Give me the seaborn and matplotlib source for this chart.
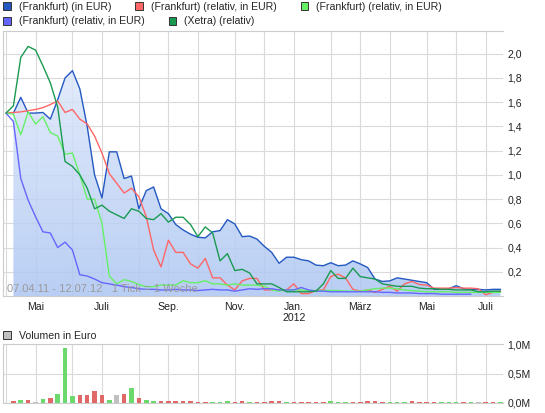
import matplotlib
matplotlib.use('Agg')
import matplotlib.pyplot as plt
import matplotlib.dates as mdates
from matplotlib.patches import Patch, PathPatch
from matplotlib.colors import LinearSegmentedColormap
from matplotlib.ticker import FixedLocator, FuncFormatter
import seaborn as sns
import numpy as np
import pandas as pd

nan = np.nan

# weekly values, first week starting 2011-04-03
start = '2011-04-03'

frankfurt_eur = [nan, 1.51, 1.64, 1.51, 1.51, 1.515, 1.46, 1.62, 1.80, 1.86,
                 1.71, 1.40, 1.00, 0.81, 1.19, 1.19, 0.97, 0.99, 0.72, 0.87,
                 0.90, 0.72, 0.68, 0.59, 0.545, 0.51, 0.485, 0.48, 0.53, 0.54,
                 0.63, 0.595, 0.49, 0.495, 0.47, 0.41, 0.36, 0.27, 0.32, 0.32,
                 0.30, 0.29, 0.255, 0.25, 0.275, 0.25, 0.255, 0.29, 0.265, 0.235,
                 0.14, 0.12, 0.125, 0.15, 0.14, 0.13, 0.12, 0.11, 0.055, 0.055,
                 0.06, 0.085, 0.06, 0.055, 0.055, 0.05, 0.055, 0.055]

frankfurt_rel_rot = [1.51, 1.515, 1.52, 1.53, 1.54, 1.555, 1.58, 1.61, 1.515, 1.54,
                     1.46, 1.42, 1.32, 1.18, 1.01, 0.93, 0.85, 0.89, 0.82, 0.655,
                     0.38, 0.24, 0.46, 0.36, 0.36, 0.265, 0.23, 0.31, 0.15, 0.15,
                     0.09, 0.05, 0.125, 0.145, 0.145, 0.05, 0.05, 0.05, 0.05, 0.10,
                     0.02, 0.02, 0.045, 0.05, 0.16, 0.18, 0.15, 0.055, 0.04, 0.05,
                     0.03, 0.055, 0.08, 0.04, 0.10, 0.12, 0.095, 0.09, 0.065, 0.065,
                     0.065, 0.07, 0.065, 0.065, 0.06, 0.01, 0.03, 0.04]

frankfurt_rel_gruen = [1.51, 1.50, 1.33, 1.52, 1.42, 1.48, 1.35, 1.32, 1.17, 1.18,
                       1.00, 0.80, 0.80, 0.60, 0.165, 0.10, 0.135, 0.12, 0.095, 0.077,
                       0.077, 0.09, 0.09, 0.09, 0.126, 0.11, 0.11, 0.126, 0.10, 0.10,
                       0.09, 0.10, 0.09, 0.09, 0.09, 0.08, 0.05, 0.04, 0.05, 0.05,
                       0.05, 0.045, 0.045, 0.045, 0.045, 0.045, 0.04, 0.04, 0.04, 0.05,
                       0.06, 0.065, 0.065, 0.06, 0.05, 0.045, 0.04, 0.035, 0.035, 0.035,
                       0.035, 0.03, 0.03, 0.03, 0.03, 0.03, 0.03, 0.03]

frankfurt_rel_blau = [1.51, 1.44, 0.97, 0.79, 0.655, 0.53, 0.52, 0.40, 0.445, 0.38,
                      0.175, 0.165, 0.14, 0.11, 0.10, 0.09, 0.077, 0.07, 0.06, 0.055,
                      0.055, 0.05, 0.05, 0.055, 0.05, 0.05, 0.045, 0.05, 0.055, 0.05,
                      0.05, 0.04, 0.05, 0.06, 0.055, 0.06, 0.06, 0.05, 0.05, 0.05,
                      0.07, 0.05, 0.04, 0.04, 0.035, 0.035, 0.035, 0.035, 0.035, 0.035,
                      0.035, 0.03, 0.03, 0.025, 0.025, 0.025, 0.02, 0.02, 0.02, 0.015,
                      0.015, 0.015, 0.015, 0.015, nan, nan, nan, nan]

xetra = [1.51, 1.57, 1.97, 2.06, 2.03, 1.90, 1.76, 1.56, 1.11, 1.07,
         1.00, 0.89, 0.72, 0.75, 0.70, 0.67, 0.64, 0.72, 0.70, 0.64,
         0.63, 0.68, 0.61, 0.65, 0.65, 0.59, 0.49, 0.57, 0.52, 0.29,
         0.35, 0.21, 0.22, 0.19, 0.10, 0.10, 0.10, 0.07, 0.035, 0.035,
         0.035, 0.035, 0.04, 0.10, 0.21, 0.145, 0.145, 0.23, 0.16, 0.15,
         0.14, 0.10, 0.09, 0.08, 0.08, 0.08, 0.065, 0.06, 0.06, 0.055,
         0.055, 0.05, 0.05, 0.05, 0.035, 0.035, 0.04, 0.04]

# volume in million euro, direction u=up d=down n=unchanged
volumen = [nan, 0.04, 0.056, 0.056, 0.023, 0.073, 0.09, 0.158, 0.94, 0.124,
           0.141, 0.141, 0.209, 0.141, 0.056, 0.141, 0.158, 0.26, 0.09, 0.056,
           0.04, 0.04, 0.04, 0.034, 0.034, 0.034, 0.022, 0.022, 0.022, 0.022,
           0.034, 0.022, 0.034, 0.022, 0.022, 0.022, 0.036, 0.036, 0.02, 0.02,
           0.02, 0.02, 0.02, 0.02, 0.036, 0.02, 0.02, 0.02, 0.02, 0.036,
           0.036, 0.02, 0.02, 0.02, 0.02, 0.036, 0.02, 0.02, 0.02, 0.02,
           0.02, 0.02, 0.02, 0.02, 0.02, 0.02, 0.02, 0.02]
richtung = ['n', 'd', 'u', 'd', 'n', 'u', 'd', 'u', 'u', 'u',
            'd', 'd', 'd', 'd', 'u', 'n', 'd', 'u', 'd', 'u',
            'u', 'd', 'd', 'd', 'd', 'd', 'd', 'd', 'u', 'u',
            'u', 'd', 'd', 'u', 'd', 'd', 'd', 'd', 'u', 'd',
            'd', 'd', 'd', 'd', 'u', 'u', 'u', 'd', 'd', 'd',
            'd', 'd', 'u', 'u', 'u', 'd', 'd', 'd', 'd', 'u',
            'u', 'u', 'd', 'u', 'n', 'd', 'd', 'u']

month_labels = ['', 'Mai', '', 'Juli', '', 'Sep.', '', 'Nov.', '', 'Jan.\n2012',
                '', 'März', '', 'Mai', '', 'Juli']

series_labels = ['(Frankfurt) (in EUR)', '(Frankfurt) (relativ, in EUR)',
                 '(Frankfurt) (relativ, in EUR)', '(Frankfurt) (relativ, in EUR)',
                 '(Xetra) (relativ)']
series_colors = ['#2459c2', '#ff6666', '#66f066', '#6666ff', '#1a9a50']
bar_colors = {'u': '#6cd96c', 'd': '#e06868', 'n': '#c0c0c0'}

sns.set_style('white')
plt.rcParams['font.family'] = ['Liberation Sans', 'DejaVu Sans']
FS = 7.6

dates = pd.date_range(start, periods=len(xetra), freq='7D')
xn = mdates.date2num(dates)
df = pd.DataFrame({'x': xn, 'eur': frankfurt_eur, 'rot': frankfurt_rel_rot,
                   'gruen': frankfurt_rel_gruen, 'blau': frankfurt_rel_blau,
                   'xetra': xetra, 'vol': volumen, 'dir': richtung})

# first weekly tick inside each month -> grid positions
month_ticks = df.groupby(dates.to_period('M'))['x'].first().values
week = xn[1] - xn[0]
xlim = (xn[0] - 0.45 * week, xn[-1] + 0.34 * week)
ytop = 2.19

fig = plt.figure(figsize=(5.45, 4.13), dpi=100)
ax = fig.add_axes([2.7 / 545, 1 - 296 / 413, 500.3 / 545, 265.3 / 413])
ax2 = fig.add_axes([2.7 / 545, 1 - 403 / 413, 500.3 / 545, 59 / 413])

grid_kw = dict(color='#dadada', linewidth=0.8)
for a in (ax, ax2):
    a.set_xlim(*xlim)
    a.xaxis.set_major_locator(FixedLocator(month_ticks))
    a.grid(True, **grid_kw)
    a.set_axisbelow(True)
    for side in ('left', 'top', 'bottom'):
        a.spines[side].set_color('#cccccc')
        a.spines[side].set_linewidth(0.8)
    a.spines['right'].set_visible(False)
    a.yaxis.tick_right()
    a.tick_params(axis='y', length=0, pad=3, labelsize=FS, labelcolor='#222222')

# gradient area under the first series
poly = ax.fill_between(df['x'], df['eur'], 0, facecolor='none', edgecolor='none')
clip = PathPatch(poly.get_paths()[0], transform=ax.transData,
                 facecolor='none', edgecolor='none')
ax.add_patch(clip)
cmap = LinearSegmentedColormap.from_list('fill', ['#adc6f2', '#e6eefd'])
grad = np.linspace(1, 0, 256).reshape(-1, 1)
im = ax.imshow(grad, cmap=cmap, aspect='auto', origin='upper', alpha=0.85,
               extent=[xlim[0], xlim[1], 0, ytop], zorder=1)
im.set_clip_path(clip)

for col, color in zip(['eur', 'rot', 'gruen', 'blau', 'xetra'], series_colors):
    sns.lineplot(data=df, x='x', y=col, color=color, linewidth=1.0, ax=ax, zorder=3)

ax.set_xlim(*xlim)
ax.set_ylim(0, ytop)
ax.set_yticks(np.arange(0.2, 2.01, 0.2))
ax.yaxis.set_major_formatter(FuncFormatter(lambda v, p: f'{v:.1f}'.replace('.', ',')))
ax.set_xticklabels(month_labels)
ax.tick_params(axis='x', length=2.5, color='#cccccc', pad=1.5, labelsize=FS,
               labelcolor='#222222')
ax.set_xlabel('')
ax.set_ylabel('')
ax.text(0.0092, 0.026, '07.04.11 - 12.07.12   1 Tick = 1 Woche',
        transform=ax.transAxes, fontsize=8, color='#9a9a9a', va='center', zorder=4)

# volume panel
ax2.bar(df['x'], df['vol'], width=0.62 * week, linewidth=0,
        color=[bar_colors[d] for d in df['dir']], zorder=3)
ax2.set_xlim(*xlim)
ax2.set_ylim(0, 1.0)
ax2.set_yticks([0, 0.5, 1.0])
ax2.yaxis.set_major_formatter(FuncFormatter(lambda v, p: f'{v:.1f}M'.replace('.', ',')))
ax2.tick_params(axis='x', length=0, labelbottom=False)

# legends
leg_kw = dict(loc='center left', frameon=False, fontsize=FS, handlelength=0.72,
              handleheight=0.72, handletextpad=0.75, columnspacing=2.3,
              borderpad=0, borderaxespad=0)
handles = [Patch(facecolor=c, edgecolor='#333333', linewidth=0.7) for c in series_colors]
fig.legend(handles[:3], series_labels[:3], ncol=3,
           bbox_to_anchor=(3 / 545, 1 - 6.6 / 413), **leg_kw)
fig.legend(handles[3:], series_labels[3:], ncol=2,
           bbox_to_anchor=(3 / 545, 1 - 21.5 / 413), **leg_kw)
fig.legend([Patch(facecolor='#c0c0c0', edgecolor='#333333', linewidth=0.7)],
           ['Volumen in Euro'], bbox_to_anchor=(3 / 545, 1 - 335.6 / 413), **leg_kw)

fig.savefig('out.png', dpi=100)
